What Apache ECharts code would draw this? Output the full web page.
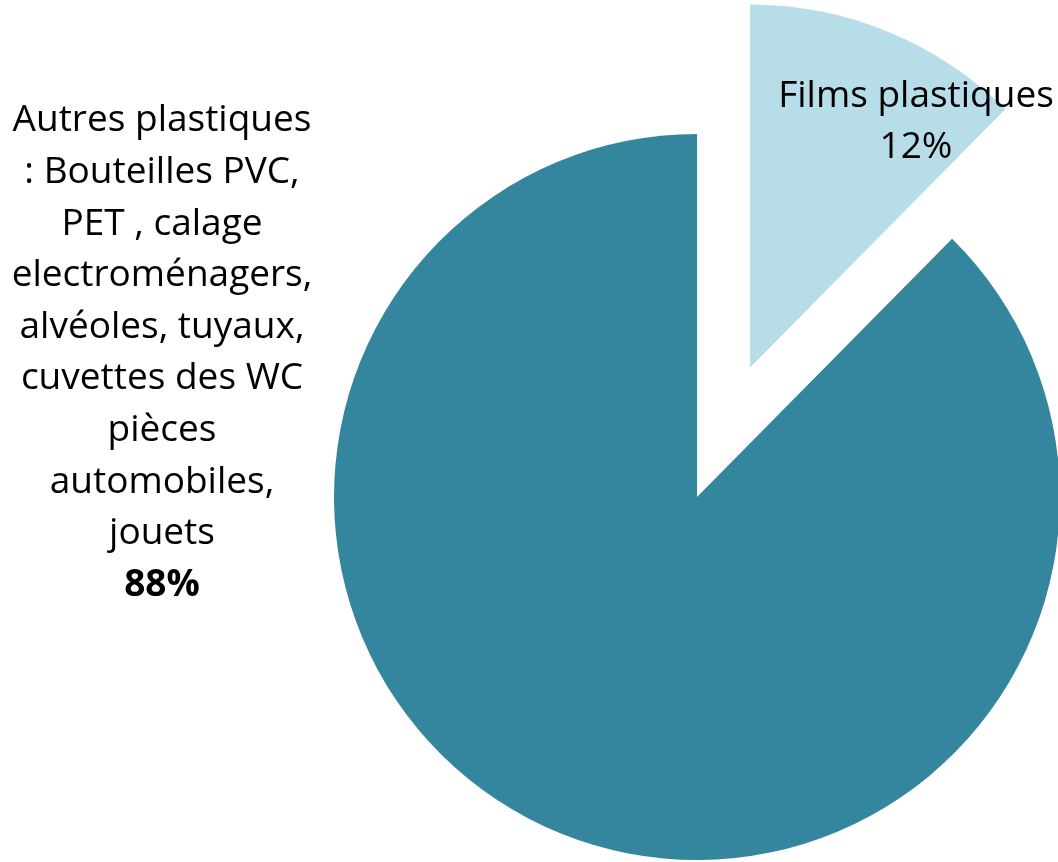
<!DOCTYPE html>
<html>
<head>
<meta charset="utf-8">
<script src="https://cdn.jsdelivr.net/npm/echarts@6/dist/echarts.min.js"></script>
<style>
html,body{margin:0;padding:0;background:#fff;}
#chart{width:1058px;height:862px;}
</style>
</head>
<body>
<div id="chart"></div>
<script>
const categories = [
  'Films plastiques',
  'Autres plastiques\n: Bouteilles PVC,\nPET , calage\nelectroménagers,\nalvéoles, tuyaux,\ncuvettes des WC\npièces\nautomobiles,\njouets'
];
const values = [12.4, 87.6];
const percentLabels = ['12%', '88%'];
const colors = ['#B7DDE8', '#34869E'];

const FONT = 'Open Sans';
const FS = 37;
const LH = 51.6;
const chart = echarts.init(document.getElementById('chart'));
const data = categories.map((c, i) => ({
  name: c,
  value: values[i],
  selected: i === 0,
  itemStyle: { color: colors[i] },
  label: i === 0
    ? { show: false }
    : { formatter: '{b}\n{bold|' + percentLabels[i] + '}' }
}));

chart.setOption({
  animation: false,
  backgroundColor: '#ffffff',
  graphic: {
    elements: [{
      type: 'text',
      x: 916,
      y: 122,
      z: 100,
      zlevel: 1,
      silent: true,
      style: {
        text: categories[0] + '\n' + percentLabels[0],
        fill: '#000',
        font: FS + 'px "' + FONT + '"',
        lineHeight: LH,
        align: 'center',
        verticalAlign: 'middle'
      }
    }]
  },
  series: [{
    type: 'pie',
    center: [697, 497],
    radius: 363,
    startAngle: 90,
    clockwise: true,
    selectedMode: 'single',
    selectedOffset: 140,
    avoidLabelOverlap: false,
    label: {
      show: true,
      position: 'inside',
      color: '#000',
      fontFamily: FONT,
      fontSize: FS,
      lineHeight: LH,
      align: 'center',
      overflow: 'none',
      rich: {
        bold: { fontWeight: 'bold', fontFamily: FONT, fontSize: FS, lineHeight: LH, color: '#000' }
      }
    },
    labelLine: { show: false },
    emphasis: { disabled: true },
    labelLayout: function (p) {
      if (p.dataIndex === 1) {
        return { x: 162, y: 353, align: 'center', verticalAlign: 'middle' };
      }
      return {};
    },
    data: data
  }]
});
</script>
</body>
</html>
